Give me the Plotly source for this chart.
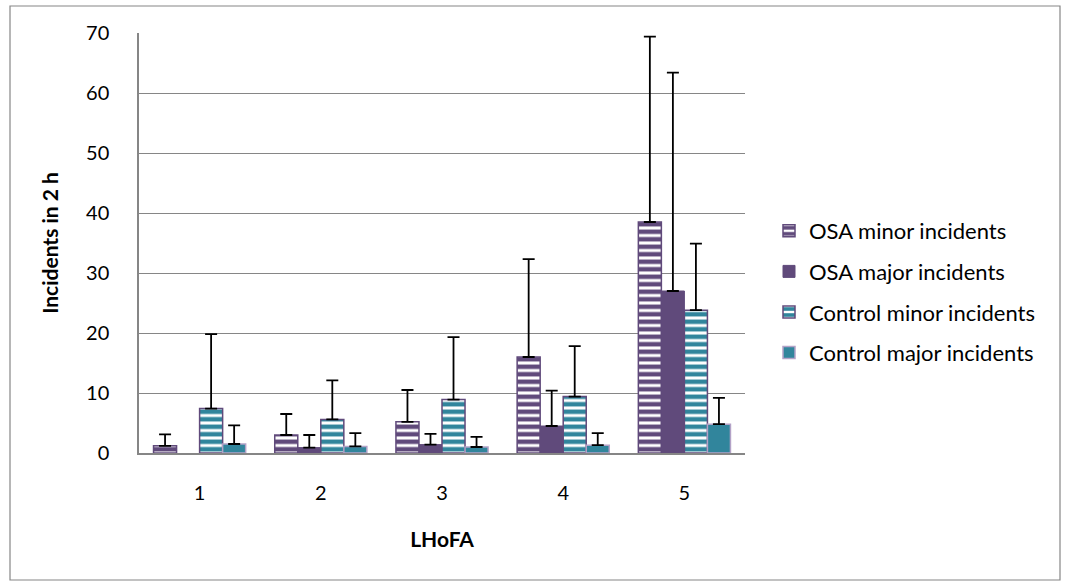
import plotly.graph_objects as go

categories = ["1", "2", "3", "4", "5"]
series_names = ["OSA minor incidents", "OSA major incidents",
                "Control minor incidents", "Control major incidents"]
osa_minor = [1.2, 3.0, 5.2, 16.0, 38.5]
osa_minor_top = [3.1, 6.5, 10.5, 32.3, 69.4]
osa_major = [None, 0.9, 1.4, 4.5, 27.0]
osa_major_top = [None, 3.0, 3.2, 10.4, 63.4]
ctrl_minor = [7.4, 5.6, 8.9, 9.4, 23.8]
ctrl_minor_top = [19.8, 12.1, 19.3, 17.8, 34.9]
ctrl_major = [1.5, 1.1, 1.0, 1.3, 4.8]
ctrl_major_top = [4.6, 3.3, 2.7, 3.3, 9.2]

y_ticks = [0, 10, 20, 30, 40, 50, 60, 70]

PURPLE = "#604A7B"
TEAL = "#31859C"
LIGHT_PURPLE = "#B3A2C7"
GRAY = "#868686"
FONT = "Lato"

values = [osa_minor, osa_major, ctrl_minor, ctrl_major]
tops = [osa_minor_top, osa_major_top, ctrl_minor_top, ctrl_major_top]
styles = [
    dict(color="white", pattern=dict(shape="-", fgcolor=PURPLE, bgcolor="white",
                                     fgopacity=1, size=7.5, solidity=0.6,
                                     fillmode="replace"),
         line=dict(color=PURPLE, width=1.5)),
    dict(color=PURPLE, line=dict(color=PURPLE, width=1)),
    dict(color="white", pattern=dict(shape="-", fgcolor=TEAL, bgcolor="white",
                                     fgopacity=1, size=7.5, solidity=0.6,
                                     fillmode="replace"),
         line=dict(color=PURPLE, width=1.5)),
    dict(color=TEAL, line=dict(color=LIGHT_PURPLE, width=1.5)),
]

fig = go.Figure()
for name, v, t, st in zip(series_names, values, tops, styles):
    err = [None if (vv is None) else max(tt - vv, 0) for vv, tt in zip(v, t)]
    fig.add_trace(go.Bar(
        x=categories, y=v, name=name, marker=st, legendgroup=name,
        error_y=dict(type="data", symmetric=False, array=err,
                     arrayminus=[0] * len(err), color="black",
                     thickness=1.8, width=6, visible=True),
    ))

L, R, T, B = 139, 745, 33, 453
PW, PH = R - L, B - T

fig.update_layout(
    width=1067, height=582,
    margin=dict(l=L, r=1067 - R, t=T, b=582 - B),
    paper_bgcolor="white", plot_bgcolor="white",
    barmode="group", bargap=0.24, bargroupgap=0,
    font=dict(family=FONT, size=20, color="black"),
    legend=dict(x=(769 - L) / PW, y=(B - 292) / PH, xanchor="left", yanchor="middle",
                font=dict(family=FONT, size=22), tracegroupgap=9,
                itemwidth=30),
    xaxis=dict(showline=True, linecolor=GRAY, linewidth=1.5,
               ticks="", tickfont=dict(size=20), ticklabelstandoff=21,
               title=dict(text="<b>LHoFA</b>", font=dict(size=21), standoff=30)),
    yaxis=dict(range=[0, 70], tickvals=y_ticks, showline=True, linecolor=GRAY,
               linewidth=1.5, showgrid=True, gridcolor=GRAY, gridwidth=1,
               ticks="", tickfont=dict(size=20), zeroline=False,
               ticklabelstandoff=24,
               title=dict(text="<b>Incidents in 2 h</b>", font=dict(size=21), standoff=22)),
    shapes=[dict(type="rect", xref="paper", yref="paper",
                 x0=(10 - L) / PW, x1=(1060 - L) / PW,
                 y0=-(580 - B) / PH, y1=(B - 6) / PH,
                 line=dict(color=GRAY, width=1.2), fillcolor="rgba(0,0,0,0)",
                 layer="below")],
)

fig.write_html("out.html", config={"displayModeBar": False},
               post_script="document.body.style.margin='0';")
